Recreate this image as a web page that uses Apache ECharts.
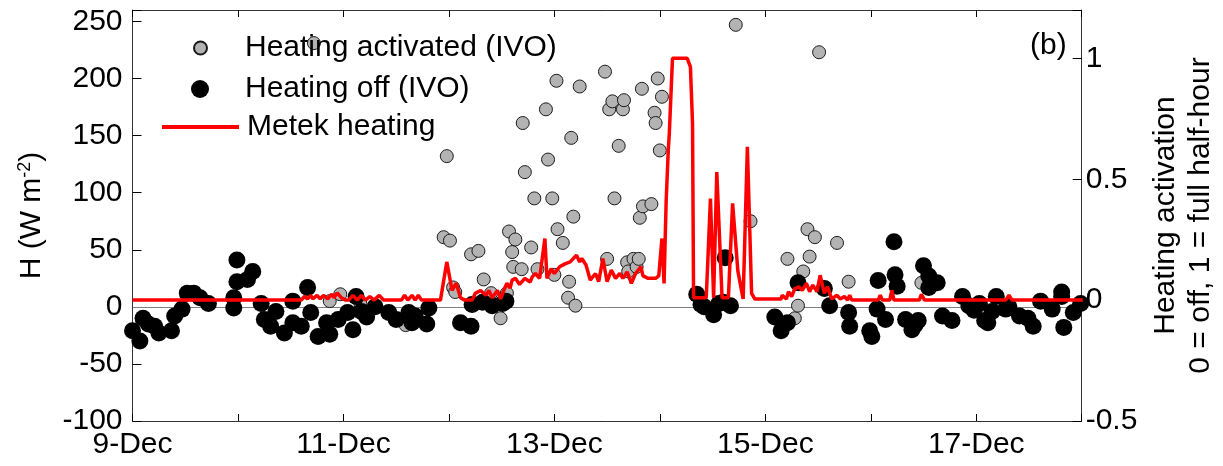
<!DOCTYPE html>
<html>
<head>
<meta charset="utf-8">
<script src="https://cdn.jsdelivr.net/npm/echarts@6/dist/echarts.min.js"></script>
<style>
html,body{margin:0;padding:0;background:#fff;}
#chart{width:1223px;height:466px;}
</style>
</head>
<body>
<div id="chart"></div>
<script>
// ---- data (x in day of December) ----
const xTickDays = [9, 10, 11, 12, 13, 14, 15, 16, 17, 18];
const leftTicks = [-100, -50, 0, 50, 100, 150, 200, 250];
const rightTicks = [-0.5, 0, 0.5, 1];

// Heating activated (IVO): grey dots, H (W m-2)
const onDay = [10.72,10.87,10.97,11.16,11.59,11.95,11.98,12.01,12.04,12.06,12.21,12.28,12.33,12.40,12.49,12.55,12.57,12.60,12.61,12.63,12.69,12.70,12.72,12.78,12.81,12.84,12.92,12.94,12.98,13.00,13.02,13.03,13.08,13.13,13.14,13.16,13.18,13.20,13.24,13.48,13.50,13.52,13.55,13.57,13.61,13.65,13.66,13.69,13.70,13.75,13.78,13.80,13.81,13.83,13.84,13.92,13.95,13.96,13.98,14.00,14.02,14.72,14.86,15.21,15.28,15.31,15.36,15.40,15.42,15.47,15.51,15.68,15.79,16.48];
const onH   = [231,5,11,3,-16,61,132,58,17,13,46,49,24,12,-10,12,66,48,35,59,33,161,118,52,95,33,173,129,95,28,198,68,56,8,22,148,79,1,193,206,42,173,180,95,141,173,181,39,31,42,35,42,78,191,88,90,170,161,200,137,184,247,75,42,-10,1,31,68,44,61,223,56,22,21];

// Heating off (IVO): black dots, H (W m-2)
const offDay = [9.00,9.07,9.10,9.15,9.21,9.25,9.37,9.40,9.47,9.52,9.58,9.64,9.72,9.96,9.96,9.99,9.99,10.09,10.14,10.22,10.25,10.31,10.36,10.44,10.52,10.52,10.60,10.66,10.69,10.76,10.84,10.87,10.95,11.04,11.09,11.12,11.17,11.22,11.30,11.43,11.50,11.62,11.65,11.68,11.79,11.81,12.11,12.21,12.22,12.32,12.41,12.51,12.54,14.35,14.39,14.42,14.51,14.56,14.60,14.62,14.67,15.09,15.15,15.21,15.31,15.56,15.61,15.79,15.80,15.99,16.01,16.06,16.07,16.14,16.22,16.23,16.25,16.33,16.39,16.42,16.45,16.50,16.55,16.55,16.63,16.68,16.77,16.87,16.93,16.98,17.03,17.08,17.11,17.15,17.19,17.28,17.31,17.41,17.49,17.54,17.61,17.72,17.81,17.81,17.83,17.92,17.99,18.04];
const offH   = [-21,-30,-10,-15,-17,-23,-21,-8,-2,12,12,8,3,-1,8,22,41,24,31,3,-11,-17,-4,-23,-14,5,-17,17,-5,-26,-14,-24,-11,-5,-20,9,-4,-9,0,-5,-11,-5,-14,-8,-15,-1,-14,-17,2,4,1,3,5,11,2,0,-7,3,4,43,1,-9,-21,-14,21,16,1,-5,-17,-21,-26,-2,23,-11,57,28,18,-11,-20,-16,-12,36,27,17,21,-8,-12,9,1,-3,3,-12,-14,-4,9,-2,0,-8,-10,-17,5,-2,13,9,-18,-5,3,-7];

// Metek heating activation (0 = off, 1 = full half-hour)
const redDay = [9.00,10.60,10.63,10.66,10.69,10.71,10.75,10.78,10.81,10.85,10.89,10.91,10.94,10.98,11.02,11.05,11.09,11.13,11.17,11.21,11.25,11.29,11.34,11.38,11.55,11.58,11.61,11.65,11.68,11.71,11.74,11.92,11.98,12.03,12.07,12.11,12.15,12.22,12.25,12.30,12.35,12.38,12.41,12.46,12.49,12.53,12.55,12.58,12.60,12.63,12.67,12.72,12.77,12.79,12.82,12.86,12.91,12.93,12.97,13.00,13.05,13.10,13.15,13.21,13.24,13.26,13.30,13.34,13.39,13.42,13.46,13.50,13.54,13.58,13.62,13.65,13.69,13.73,13.77,13.82,13.84,13.89,13.96,13.99,14.02,14.04,14.06,14.08,14.09,14.12,14.26,14.29,14.31,14.32,14.44,14.48,14.51,14.54,14.59,14.65,14.69,14.74,14.79,14.83,14.87,14.90,15.15,15.16,15.20,15.22,15.25,15.28,15.32,15.35,15.39,15.42,15.45,15.49,15.52,15.56,15.59,15.63,15.68,15.71,15.75,15.78,15.80,15.82,16.07,16.09,16.11,16.18,16.20,16.22,16.46,16.48,16.51,17.28,17.31,17.34,18.01];
const redAct = [0,0,0.015,0.005,0.02,0.005,0.02,0.005,0.02,0.005,0.025,0.01,0.03,0.01,0,0,0.02,0,0.02,0,0.015,0,0.02,0,0,0.02,0,0.02,0,0.02,0,0,0.158,0.04,0.07,0.01,0,0,0.028,0.04,0.02,0.04,0.01,0.04,0.005,0.05,0.07,0.05,0.083,0.09,0.065,0.09,0.075,0.096,0.11,0.09,0.255,0.09,0.13,0.11,0.138,0.15,0.158,0.186,0.158,0.172,0.145,0.083,0.11,0.076,0.172,0.076,0.124,0.09,0.11,0.09,0.117,0.069,0.11,0.138,0.1,0.09,0.09,0.1,0.255,0.069,0.41,0.62,0.69,1.0,1.0,0.965,0.73,0.01,0.01,0.42,0.01,0.53,0.01,0.01,0.40,0.12,0.005,0.634,0.028,0.005,0.005,0.02,0.005,0.035,0.015,0.048,0.055,0.04,0.069,0.035,0.062,0.035,0.103,0.028,0.055,0.005,0.02,0.005,0.015,0,0.02,0,0,0.02,0,0,0.04,0,0,0.024,0,0,0.02,0,0];

const zip = (a, b) => a.map((v, i) => [v, b[i]]);
const FONT = '"Liberation Sans", Arial, sans-serif';

const chart = echarts.init(document.getElementById('chart'), null, {renderer: 'canvas'});
const axisLine = {show: true, onZero: false, lineStyle: {color: '#333', width: 1}};
const xLabelFmt = v => (Math.abs(v - Math.round(v)) < 1e-6 && xTickDays.includes(Math.round(v)) && Math.round(v) % 2 === 1) ? Math.round(v) + '-Dec' : '';
const onTicks = (ticks) => v => ticks.some(t => Math.abs(t - v) < 1e-6) ? String(v) : '';
const legendText = {fontSize: 30, fontFamily: FONT, color: '#000', padding: [0, 0, 0, 3]};

const option = {
  animation: false,
  textStyle: {fontFamily: FONT, color: '#000'},
  grid: {left: 132.5, right: 141.3, top: 10, bottom: 45, containLabel: false, outerBoundsMode: 'none'},
  legend: [
    {data: [{name: 'Heating activated (IVO)', icon: 'circle'}], left: 193, top: 33, padding: 0,
     itemWidth: 13, itemHeight: 13, itemGap: 0, textStyle: Object.assign({}, legendText, {padding: [0, 0, 0, 33]})},
    {data: [{name: 'Heating off (IVO)', icon: 'circle'}], left: 191, top: 74, padding: 0,
     itemWidth: 18, itemHeight: 18, itemGap: 0, textStyle: Object.assign({}, legendText, {padding: [0, 0, 0, 31]})},
    {data: [{name: 'Metek heating', icon: 'rect'}], left: 162, top: 112, padding: 0,
     itemWidth: 77, itemHeight: 4, itemGap: 0, textStyle: legendText}
  ],
  graphic: [
    {type: 'text', left: 1030, top: 31, style: {text: '(b)', fontSize: 30, fontFamily: FONT, fill: '#000'}}
  ],
  xAxis: [
    {type: 'value', min: xTickDays[0], max: xTickDays[xTickDays.length - 1], interval: 1, position: 'bottom',
     axisLine: axisLine, splitLine: {show: false},
     axisTick: {show: true, inside: true, length: 7, lineStyle: {color: '#000'}},
     axisLabel: {fontSize: 30, color: '#000', fontFamily: FONT, margin: 9, formatter: xLabelFmt}},
    {type: 'value', min: xTickDays[0], max: xTickDays[xTickDays.length - 1], interval: 1, position: 'top',
     axisLine: axisLine, splitLine: {show: false},
     axisTick: {show: true, inside: true, length: 7, lineStyle: {color: '#000'}},
     axisLabel: {show: false}}
  ],
  yAxis: [
    {type: 'value', min: -100, max: 260, interval: 50, position: 'left',
     axisLine: axisLine, splitLine: {show: false},
     axisTick: {show: true, inside: true, length: 9, lineStyle: {color: '#000'}},
     axisLabel: {fontSize: 30, color: '#000', fontFamily: FONT, margin: 10, formatter: onTicks(leftTicks)},
     name: '{a|H (W m}{s|-2}{a|)}', nameLocation: 'middle', nameRotate: 90, nameGap: 86,
     nameTextStyle: {rich: {a: {fontSize: 30, fontFamily: FONT, color: '#000', lineHeight: 30},
                            s: {fontSize: 18, fontFamily: FONT, color: '#000', verticalAlign: 'top'}}}},
    {type: 'value', min: -0.5, max: 1.2, interval: 0.5, position: 'right',
     axisLine: axisLine, splitLine: {show: false},
     axisTick: {show: true, inside: true, length: 9, lineStyle: {color: '#000'}},
     axisLabel: {fontSize: 30, color: '#000', fontFamily: FONT, margin: 4, formatter: onTicks(rightTicks)},
     name: 'Heating activation\n0 = off, 1 = full half-hour', nameLocation: 'middle', nameRotate: 90, nameGap: 66,
     nameTextStyle: {fontSize: 30, fontFamily: FONT, color: '#000', lineHeight: 35}}
  ],
  series: [
    {name: 'Heating activated (IVO)', type: 'scatter', xAxisIndex: 0, yAxisIndex: 0, z: 2,
     symbol: 'circle', symbolSize: 13, data: zip(onDay, onH),
     itemStyle: {color: '#b3b3b3', borderColor: '#1a1a1a', borderWidth: 1, opacity: 1},
     markLine: {silent: true, symbol: 'none', z: 1, label: {show: false},
                lineStyle: {color: '#808080', width: 1, type: 'solid'}, data: [{yAxis: 0}]}},
    {name: 'Heating off (IVO)', type: 'scatter', xAxisIndex: 0, yAxisIndex: 0, z: 3,
     symbol: 'circle', symbolSize: 17, data: zip(offDay, offH),
     itemStyle: {color: '#000', opacity: 1}},
    {name: 'Metek heating', type: 'line', xAxisIndex: 0, yAxisIndex: 1, z: 4,
     symbol: 'none', showSymbol: false, data: zip(redDay, redAct),
     lineStyle: {color: '#ff0000', width: 3.5}, itemStyle: {color: '#ff0000'}}
  ]
};
chart.setOption(option);
</script>
</body>
</html>
